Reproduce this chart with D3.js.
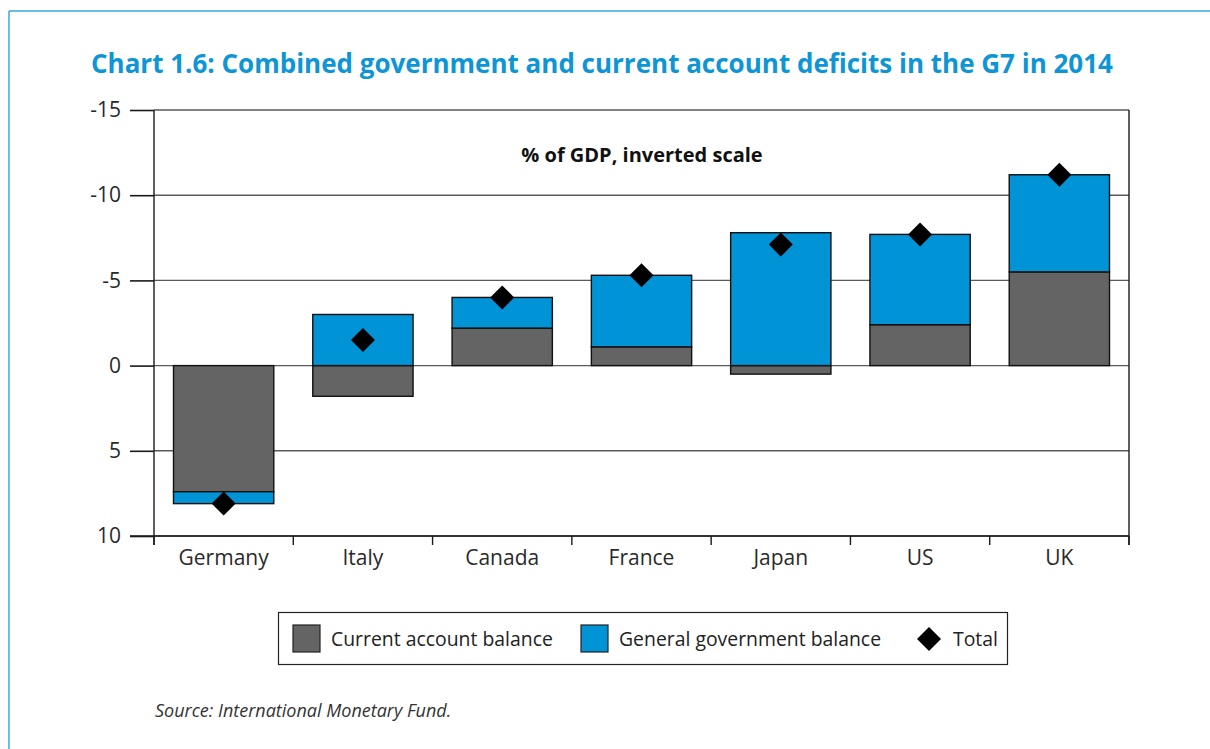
<!DOCTYPE html>
<html>
<head>
<meta charset="utf-8">
<script src="https://cdn.jsdelivr.net/npm/d3@7"></script>
<style>
  html, body { margin: 0; padding: 0; background: #fff; }
  svg { display: block; font-family: "Open Sans", "Noto Sans", sans-serif; }
</style>
</head>
<body>
<svg id="chart" width="1210" height="749"></svg>
<script>
// G7 balances in 2014, % of GDP (positive = surplus, negative = deficit)
const categories = ["Germany", "Italy", "Canada", "France", "Japan", "US", "UK"];
const currentAccount = [7.4, 1.8, -2.2, -1.1, 0.5, -2.4, -5.5];
const governmentBalance = [0.7, -3.0, -1.8, -4.2, -7.8, -5.3, -5.7];
const totals = [8.1, -1.5, -4.0, -5.3, -7.1, -7.7, -11.2];
const yTicks = [-15, -10, -5, 0, 5, 10];
const seriesNames = ["Current account balance", "General government balance", "Total"];

const colors = { ca: "#646464", gov: "#0093d6", title: "#0d95d6", frame: "#3aa7dd" };

const svg = d3.select("#chart");
const plot = { left: 154, right: 1129, top: 110, bottom: 536 };

// frame lines
svg.append("line").attr("x1", 9).attr("x2", 1210).attr("y1", 11).attr("y2", 11)
  .attr("stroke", colors.frame).attr("stroke-width", 1.5);
svg.append("line").attr("x1", 9).attr("x2", 9).attr("y1", 11).attr("y2", 749)
  .attr("stroke", colors.frame).attr("stroke-width", 1.5);

// title
svg.append("text").attr("x", 91).attr("y", 73)
  .attr("fill", colors.title).attr("font-weight", 700).attr("font-size", 26)
  .text("Chart 1.6: Combined government and current account deficits in the G7 in 2014");

const x = d3.scaleBand().domain(categories)
  .range([plot.left, plot.right]).paddingInner(0.28).paddingOuter(0.14);
// inverted scale: deficits plotted upwards
const y = d3.scaleLinear().domain([-15, 10]).range([plot.top, plot.bottom]);

// gridlines
svg.append("g").selectAll("line").data(yTicks).join("line")
  .attr("x1", plot.left).attr("x2", plot.right)
  .attr("y1", d => y(d)).attr("y2", d => y(d))
  .attr("stroke", "#5a5a5a").attr("stroke-width", 1.4);

// stacked bars (diverging around zero)
const rows = categories.map((c, i) => ({ cat: c, ca: currentAccount[i], gov: governmentBalance[i] }));
const stack = d3.stack().keys(["ca", "gov"]).offset(d3.stackOffsetDiverging);
const layers = stack(rows);
const fills = { ca: colors.ca, gov: colors.gov };

svg.append("g").selectAll("g").data(layers).join("g")
  .attr("fill", d => fills[d.key])
  .selectAll("rect").data(d => d).join("rect")
  .attr("x", d => x(d.data.cat))
  .attr("width", x.bandwidth())
  .attr("y", d => Math.min(y(d[0]), y(d[1])))
  .attr("height", d => Math.abs(y(d[1]) - y(d[0])))
  .attr("stroke", "#111").attr("stroke-width", 1.4);

// y axis
const yAxis = d3.axisLeft(y).tickValues(yTicks).tickSize(24).tickPadding(9)
  .tickFormat(d => String(d).replace("\u2212", "-"));
const gy = svg.append("g").attr("transform", `translate(${plot.left},0)`).call(yAxis);
gy.select(".domain").remove();
gy.selectAll(".tick line").attr("stroke", "#1a1a1a").attr("stroke-width", 1.6);
gy.selectAll(".tick text").attr("font-size", 21).attr("fill", "#2a2a2a")
  .attr("font-family", "\"Open Sans\", sans-serif");
svg.append("line").attr("x1", plot.left).attr("x2", plot.left)
  .attr("y1", plot.top).attr("y2", plot.bottom + 9).attr("stroke", "#1a1a1a").attr("stroke-width", 1.4);
svg.append("line").attr("x1", plot.right).attr("x2", plot.right)
  .attr("y1", plot.top).attr("y2", plot.bottom + 9).attr("stroke", "#1a1a1a").attr("stroke-width", 1.4);
svg.append("line").attr("x1", plot.left - 24).attr("x2", plot.right)
  .attr("y1", plot.bottom).attr("y2", plot.bottom).attr("stroke", "#1a1a1a").attr("stroke-width", 1.6);

// x axis: category labels and boundary ticks
const step = x.step();
const bounds = d3.range(categories.length + 1).map(i => x(categories[0]) - step * 0.14 + i * step);
svg.append("g").selectAll("line").data(bounds).join("line")
  .attr("x1", d => d).attr("x2", d => d)
  .attr("y1", plot.bottom).attr("y2", plot.bottom + 9)
  .attr("stroke", "#1a1a1a").attr("stroke-width", 1.4);
svg.append("g").selectAll("text").data(categories).join("text")
  .attr("x", d => x(d) + x.bandwidth() / 2).attr("y", 565)
  .attr("text-anchor", "middle").attr("font-size", 21).attr("fill", "#2a2a2a")
  .text(d => d);

// totals as diamonds
const diamond = (cx, cy, r) => `M${cx},${cy - r}L${cx + r},${cy}L${cx},${cy + r}L${cx - r},${cy}Z`;
svg.append("g").selectAll("path").data(totals).join("path")
  .attr("d", (d, i) => diamond(x(categories[i]) + x.bandwidth() / 2, y(d), 12))
  .attr("fill", "#000");

// subtitle
svg.append("text").attr("x", 642).attr("y", 162).attr("text-anchor", "middle")
  .attr("font-size", 20).attr("font-weight", 700).attr("fill", "#111")
  .text("% of GDP, inverted scale");

// legend
const lg = svg.append("g");
lg.append("rect").attr("x", 278.5).attr("y", 612.5).attr("width", 729).attr("height", 52)
  .attr("fill", "#fff").attr("stroke", "#222").attr("stroke-width", 1.2);
const legendItems = [
  { name: seriesNames[0], type: "rect", fill: colors.ca, x: 293, tx: 331 },
  { name: seriesNames[1], type: "rect", fill: colors.gov, x: 581, tx: 619 },
  { name: seriesNames[2], type: "diamond", fill: "#000", x: 917, tx: 953 }
];
legendItems.forEach(it => {
  if (it.type === "rect") {
    lg.append("rect").attr("x", it.x).attr("y", 625).attr("width", 27).attr("height", 27)
      .attr("fill", it.fill).attr("stroke", "#222").attr("stroke-width", 1.2);
  } else {
    lg.append("path").attr("d", diamond(it.x + 12, 639, 12)).attr("fill", it.fill);
  }
  lg.append("text").attr("x", it.tx).attr("y", 646).attr("font-size", 19.4).attr("fill", "#222")
    .text(it.name);
});

// source note
svg.append("text").attr("x", 155).attr("y", 717).attr("font-size", 18)
  .attr("font-style", "italic").attr("fill", "#333")
  .text("Source: International Monetary Fund.");
</script>
</body>
</html>
